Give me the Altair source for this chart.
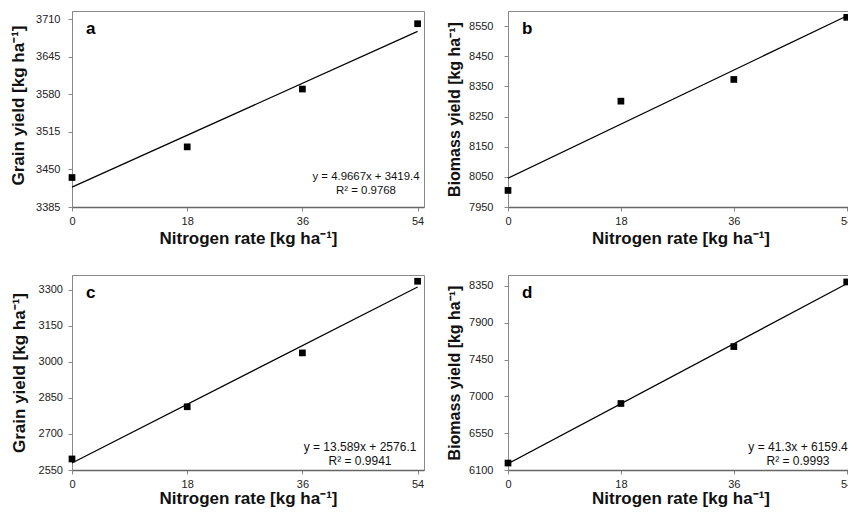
import altair as alt
import pandas as pd

FONT = "Liberation Sans"

# ---- data ----
n_rate = [0, 18, 36, 54]
x_ticks = [0, 18, 36, 54]

grain_a = [3436, 3489, 3589, 3702]
biomass_b = [8005, 8301, 8373, 8579]
grain_c = [2596, 2813, 3037, 3335]
biomass_d = [6185, 6913, 7609, 8399]

yticks_a = [3385, 3450, 3515, 3580, 3645, 3710]
yticks_b = [7950, 8050, 8150, 8250, 8350, 8450, 8550]
yticks_c = [2550, 2700, 2850, 3000, 3150, 3300]
yticks_d = [6100, 6550, 7000, 7450, 7900, 8350]

eq_a = ["y = 4.9667x + 3419.4", "R\u00b2 = 0.9768"]
eq_c = ["y = 13.589x + 2576.1", "R\u00b2 = 0.9941"]
eq_d = ["y = 41.3x + 6159.4", "R\u00b2 = 0.9993"]

x_title = "Nitrogen rate [kg ha\u207b\u00b9]"
grain_title = "Grain yield [kg ha\u207b\u00b9]"
biomass_title = "Biomass yield [kg ha\u207b\u00b9]"

AXIS_COMMON = dict(
    labelFont=FONT, labelFontSize=11, labelColor="#222222",
    titleFont=FONT, titleFontWeight="bold", titleColor="#111111",
    grid=False, tickColor="#888888", tickSize=4, tickCount=20,
    labelFlush=False, labelOverlap=False, labelBound=False, format="d",
)


def panel(ys, letter, ydomain, yticks, ytitle, ytitle_size, lab_pad, tit_pad,
          eq=None, eq_x=0, eq_y=0, eq_size=11.4, height=196, width=352,
          x_tit_pad=4, title_y=None):
    df = pd.DataFrame({"x": n_rate, "y": ys})
    xenc = alt.X("x:Q", scale=alt.Scale(domain=[0, 55], nice=False, zero=False),
                 axis=alt.Axis(values=x_ticks, title=x_title,
                               labelPadding=4, titlePadding=x_tit_pad,
                               domainColor="#666666", domainWidth=1.5,
                               titleFontSize=17, **AXIS_COMMON))
    yextra = {} if title_y is None else {"titleY": title_y}
    yenc = alt.Y("y:Q", scale=alt.Scale(domain=ydomain, nice=False, zero=False),
                 axis=alt.Axis(values=yticks, title=ytitle,
                               labelPadding=lab_pad, titlePadding=tit_pad,
                               domainColor="#888888",
                               titleFontSize=ytitle_size, **yextra, **AXIS_COMMON))
    base = alt.Chart(df)
    line = base.transform_regression("x", "y", extent=[0, 54]).mark_line(
        color="black", strokeWidth=1.2).encode(x=xenc, y=yenc)
    pts = base.mark_square(size=45, color="black", opacity=1).encode(x="x:Q", y="y:Q")
    lab = alt.Chart(pd.DataFrame({"t": [letter]})).mark_text(
        font=FONT, fontSize=17, fontWeight="bold", align="left",
        baseline="alphabetic", color="black").encode(
        x=alt.value(14), y=alt.value(23), text="t:N")
    layers = [line, pts, lab]
    if eq is not None:
        eqt = alt.Chart(pd.DataFrame({"t": ["\n".join(eq)]})).mark_text(
            font=FONT, fontSize=eq_size, align="center", baseline="alphabetic",
            lineBreak="\n", lineHeight=13.5, color="#111111").encode(
            x=alt.value(eq_x), y=alt.value(eq_y), text="t:N")
        layers.append(eqt)
    return alt.layer(*layers).properties(width=width, height=height)


pa = panel(grain_a, "a", [3385, 3724], yticks_a, grain_title, 17, 8, 8,
           eq=eq_a, eq_x=294, eq_y=169, height=196, title_y=94)
pb = panel(biomass_b, "b", [7950, 8600], yticks_b, biomass_title, 16, 11, 6,
           height=196, width=345)
pc = panel(grain_c, "c", [2550, 3361], yticks_c, grain_title, 17, 5.5, 10,
           eq=eq_c, eq_x=288, eq_y=176, eq_size=12, height=195, x_tit_pad=1)
pd_ = panel(biomass_d, "d", [6100, 8484], yticks_d, biomass_title, 16, 11, 6,
            eq=eq_d, eq_x=290, eq_y=176, eq_size=12, height=195, width=345,
            x_tit_pad=1)

chart = alt.concat(pa, pb, pc, pd_, columns=2, spacing={"row": 68, "column": 84},
                   bounds="flush").properties(
    autosize=alt.AutoSizeParams(type="none"),
    padding={"left": 64, "top": 3, "right": 776, "bottom": 498}
).configure_view(stroke="#888888", strokeWidth=1)

chart.save("out.html", embed_options={"renderer": "svg", "actions": False})
